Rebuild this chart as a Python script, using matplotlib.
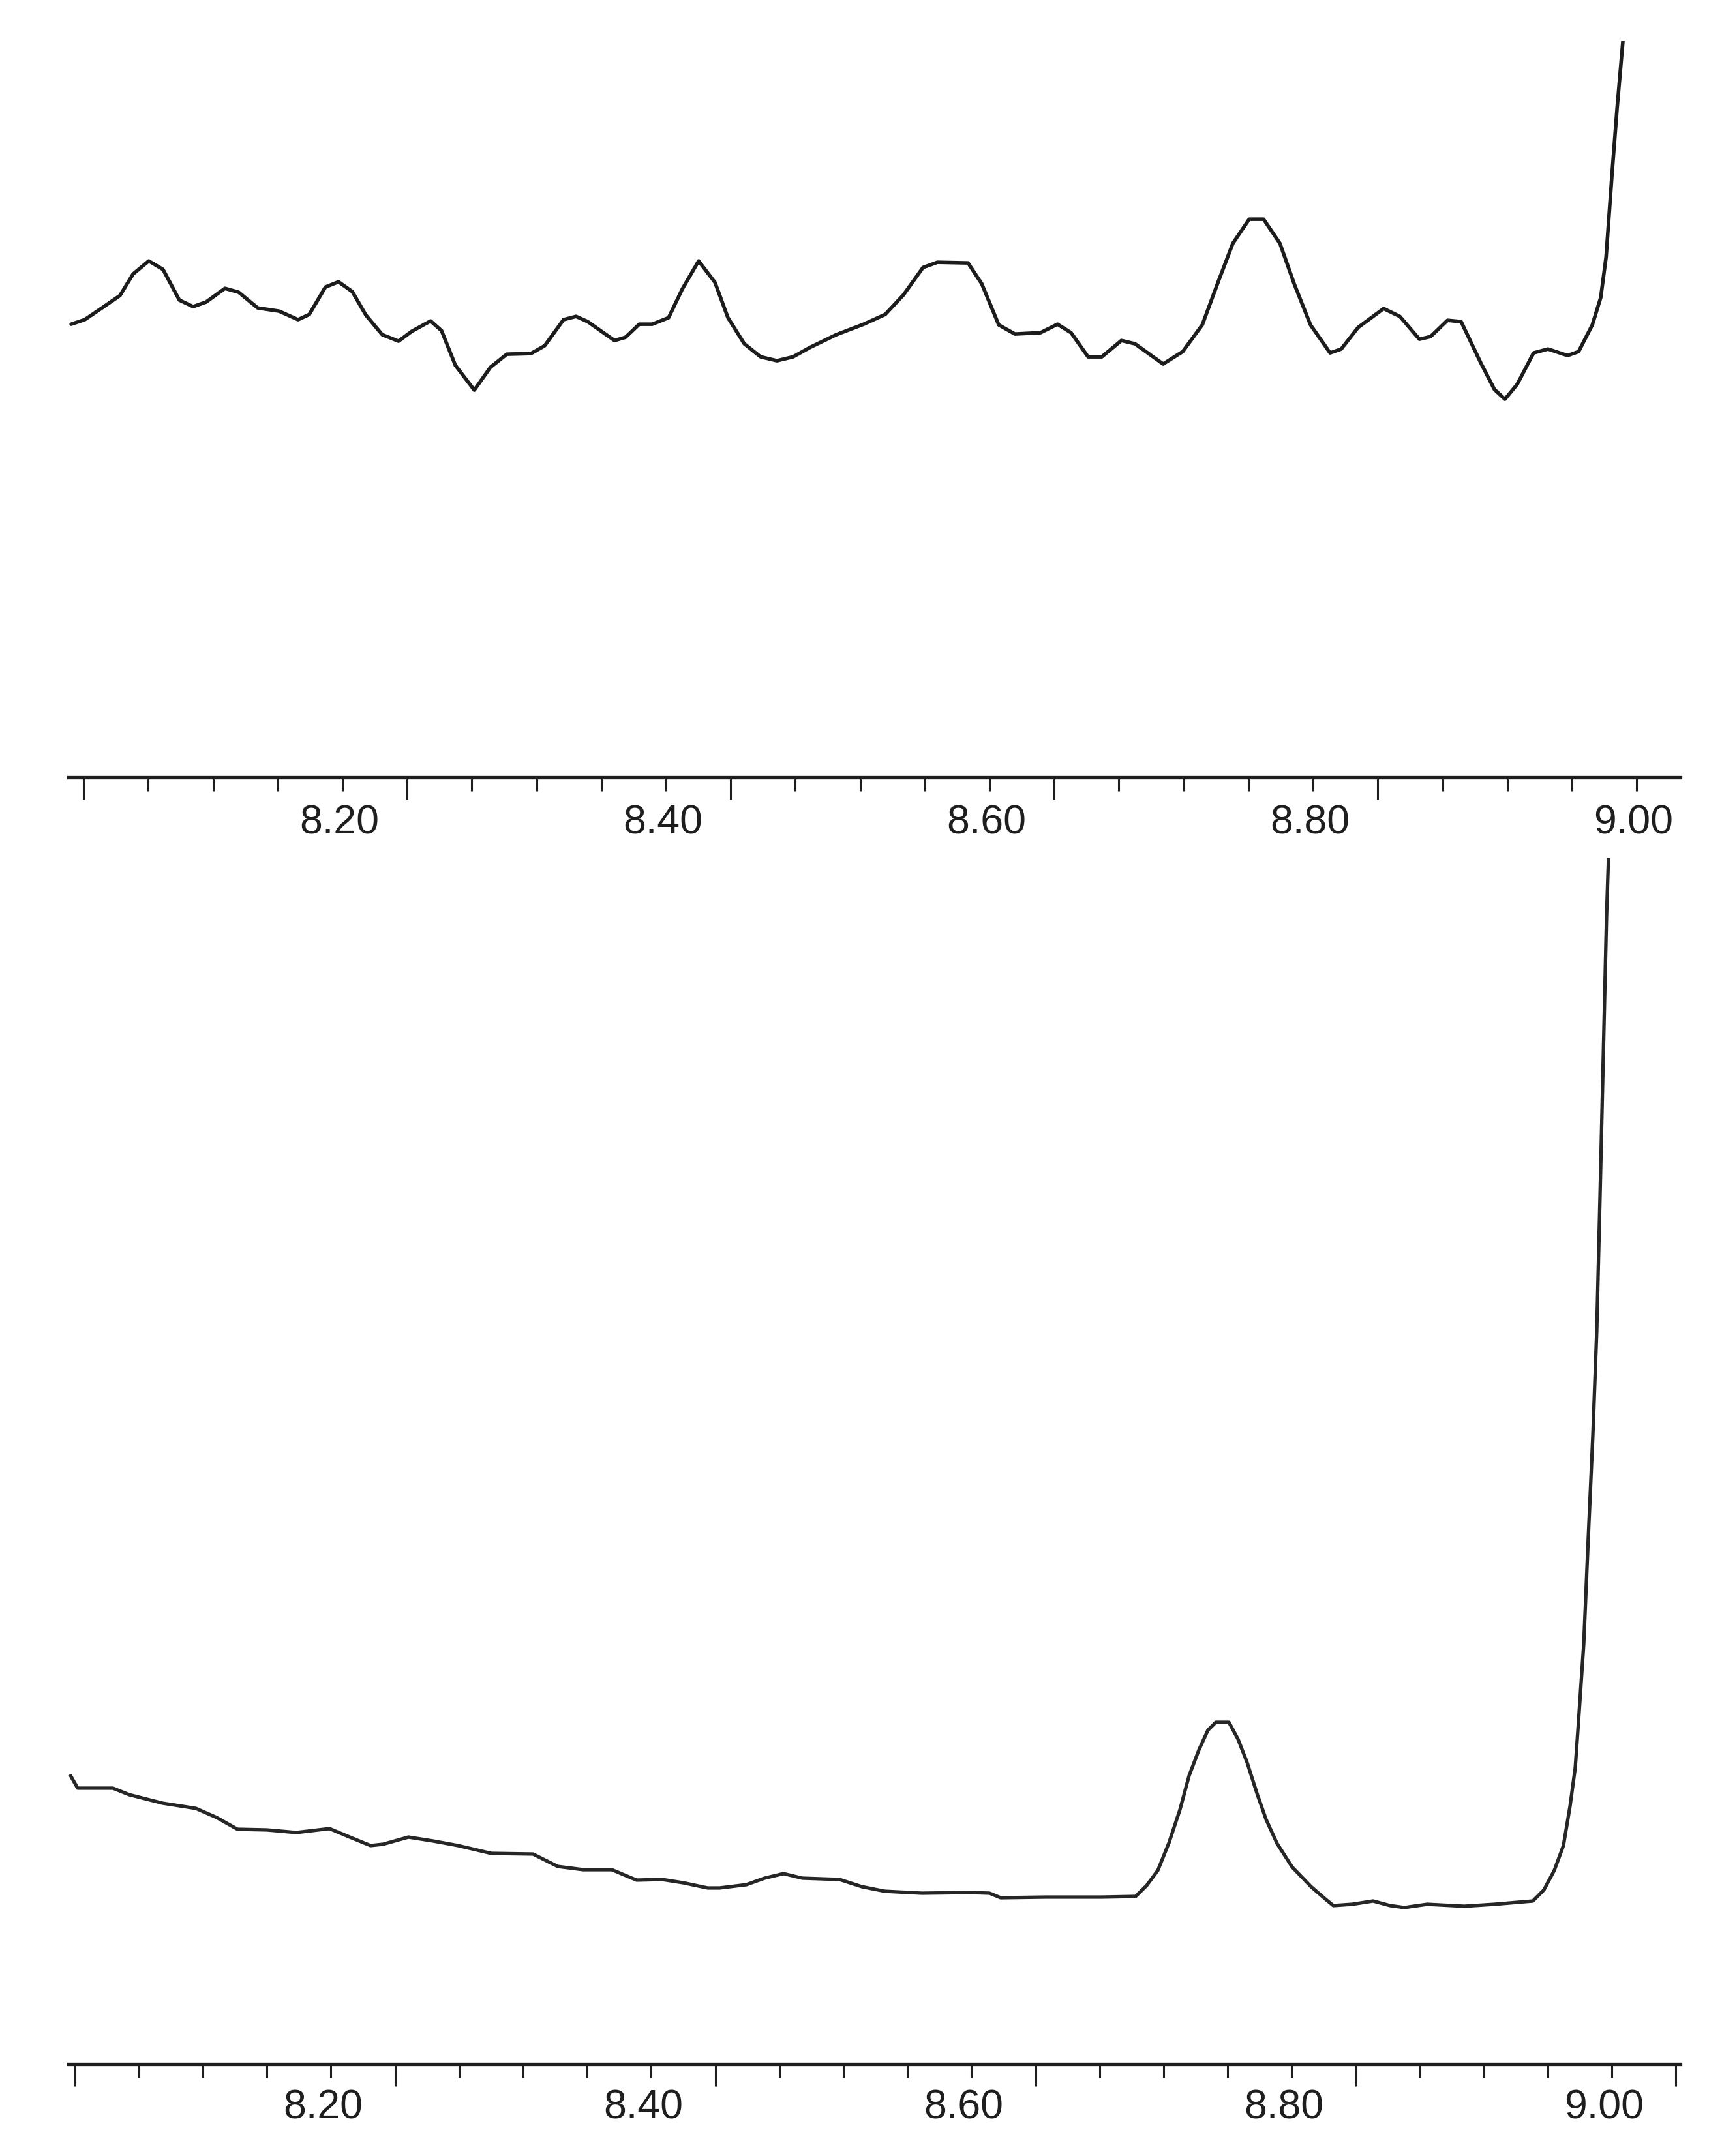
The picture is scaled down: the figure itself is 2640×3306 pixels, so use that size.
import numpy as np
import matplotlib.pyplot as plt

# Upper trace: retention time (min) and detector response
top_time = [8.0343, 8.0427, 8.0528, 8.0645, 8.0726, 8.0823, 8.0911, 8.1012, 8.1097, 8.1177,
            8.1294, 8.1379, 8.1496, 8.1629, 8.1746, 8.1815, 8.1915, 8.1996, 8.2081, 8.2165,
            8.2266, 8.2367, 8.2448, 8.2565, 8.2633, 8.2718, 8.2835, 8.2935, 8.3036, 8.3185,
            8.3270, 8.3387, 8.3464, 8.3536, 8.3702, 8.3770, 8.3855, 8.3935, 8.4036, 8.4121,
            8.4222, 8.4323, 8.4403, 8.4504, 8.4605, 8.4706, 8.4806, 8.4907, 8.5073, 8.5242,
            8.5375, 8.5488, 8.5609, 8.5698, 8.5887, 8.5972, 8.6077, 8.6177, 8.6335, 8.6440,
            8.6524, 8.6629, 8.6714, 8.6835, 8.6919, 8.7093, 8.7214, 8.7335, 8.7435, 8.7524,
            8.7625, 8.7714, 8.7815, 8.7903, 8.8004, 8.8125, 8.8194, 8.8298, 8.8456, 8.8556,
            8.8677, 8.8746, 8.8851, 8.8935, 8.9056, 8.9141, 8.9206, 8.9282, 8.9383, 8.9472,
            8.9593, 8.9661, 8.9746, 8.9798, 8.9831, 8.9867, 8.9899, 8.9935, 8.9955]
top_signal = [69.5, 70.2, 71.9, 73.9, 77.2, 79.2, 77.9, 73.2, 72.2, 72.9,
              75.0, 74.4, 72.0, 71.5, 70.2, 71.0, 75.2, 76.0, 74.5, 70.9,
              67.9, 66.9, 68.4, 70.0, 68.5, 63.2, 59.4, 62.9, 64.9, 65.0,
              66.2, 70.2, 70.7, 69.9, 67.0, 67.5, 69.5, 69.5, 70.5, 74.9,
              79.2, 75.9, 70.5, 66.5, 64.5, 63.9, 64.5, 65.9, 67.9, 69.5,
              71.0, 74.0, 78.2, 79.0, 78.9, 75.7, 69.4, 68.0, 68.2, 69.5,
              68.2, 64.5, 64.5, 67.0, 66.5, 63.4, 65.3, 69.4, 76.1, 81.9,
              85.6, 85.6, 81.9, 75.7, 69.4, 65.1, 65.7, 69.0, 71.9, 70.7,
              67.2, 67.6, 70.1, 69.9, 63.6, 59.5, 58.0, 60.3, 65.1, 65.7,
              64.7, 65.3, 69.4, 73.6, 79.8, 92.3, 102.6, 112.9, 125.0]

# Lower trace
bottom_time = [8.0424, 8.0468, 8.0688, 8.0790, 8.0998, 8.1206, 8.1336, 8.1466, 8.1650, 8.1833,
               8.2041, 8.2167, 8.2297, 8.2375, 8.2534, 8.2688, 8.2843, 8.3051, 8.3312, 8.3466,
               8.3625, 8.3804, 8.3959, 8.4118, 8.4248, 8.4403, 8.4477, 8.4644, 8.4758, 8.4876,
               8.4994, 8.5226, 8.5365, 8.5507, 8.5739, 8.6045, 8.6163, 8.6232, 8.6513, 8.6864,
               8.7075, 8.7145, 8.7214, 8.7283, 8.7352, 8.7409, 8.7471, 8.7527, 8.7576, 8.7658,
               8.7715, 8.7772, 8.7833, 8.7890, 8.7959, 8.8053, 8.8171, 8.8265, 8.8310, 8.8428,
               8.8558, 8.8664, 8.8754, 8.8896, 8.9128, 8.9316, 8.9556, 8.9625, 8.9690, 8.9747,
               8.9788, 8.9821, 8.9841, 8.9874, 8.9902, 8.9931, 8.9955, 8.9976, 8.9996, 9.0016,
               9.0028, 9.0040]
bottom_signal = [44.2, 42.3, 42.3, 41.3, 40.0, 39.2, 37.8, 36.0, 35.9, 35.5,
                 36.1, 34.8, 33.5, 33.7, 34.8, 34.2, 33.5, 32.3, 32.2, 30.3,
                 29.8, 29.8, 28.2, 28.3, 27.8, 27.0, 27.0, 27.5, 28.5, 29.2,
                 28.5, 28.3, 27.2, 26.5, 26.2, 26.3, 26.2, 25.5, 25.6, 25.6,
                 25.7, 27.4, 29.7, 33.9, 39.0, 44.2, 48.2, 51.2, 52.4, 52.4,
                 49.8, 46.2, 41.5, 37.5, 33.8, 30.2, 27.2, 25.2, 24.3, 24.5,
                 25.0, 24.3, 24.0, 24.5, 24.2, 24.5, 25.0, 26.7, 29.7, 33.5,
                 39.5, 45.5, 52.5, 64.5, 80.7, 96.6, 112.4, 133.6, 154.8, 175.9,
                 184.9, 200.0]

# Axis labels
label_pos = [8.20, 8.40, 8.60, 8.80, 9.00]
axis_labels = ['8.20', '8.40', '8.60', '8.80', '9.00']

plt.rcParams['font.family'] = ['Liberation Sans', 'DejaVu Sans']

fig = plt.figure(figsize=(26.4, 33.06), dpi=100)
ax_top = fig.add_axes([0.0398, 0.6394, 0.936, 0.3415])
ax_bot = fig.add_axes([0.0398, 0.04265, 0.936, 0.5593])


def style_panel(ax, x_range, y_top, first_tick, pad):
    ax.set_xlim(*x_range)
    ax.set_ylim(0, y_top)
    for side in ['left', 'right', 'top']:
        ax.spines[side].set_visible(False)
    ax.spines['bottom'].set_linewidth(3.8)
    ax.spines['bottom'].set_color('#1e1e1e')
    ax.set_yticks([])

    # tick marks every 0.04 min, a long one every fifth
    marks = first_tick + 0.04 * np.arange(26)
    marks = marks[marks <= x_range[1]]
    ax.set_xticks(marks[::5])
    ax.set_xticks(marks, minor=True)
    ax.tick_params(axis='x', which='major', length=24.5, width=2.2,
                   color='#1e1e1e', labelbottom=False)
    ax.tick_params(axis='x', which='minor', length=15, width=2.2, color='#1e1e1e')

    # the labels sit a little left of the long ticks
    sec = ax.secondary_xaxis('bottom')
    sec.spines['bottom'].set_visible(False)
    sec.set_xticks(label_pos)
    sec.set_xticklabels(axis_labels)
    sec.tick_params(length=0, pad=pad, labelsize=45, labelcolor='#1e1e1e')


# Upper chromatogram
ax_top.plot(top_time, top_signal, color='#1c1c1c', linewidth=4.0,
            solid_joinstyle='round', solid_capstyle='round')
style_panel(ax_top, (8.0327, 9.0290), 112.9, 8.042, 29)

# Lower chromatogram
ax_bot.plot(bottom_time, bottom_signal, color='#262626', linewidth=3.8,
            solid_joinstyle='round', solid_capstyle='round')
style_panel(ax_bot, (8.0411, 9.0477), 184.9, 8.045, 27)

fig.savefig('out.png', dpi=100, facecolor='white')
